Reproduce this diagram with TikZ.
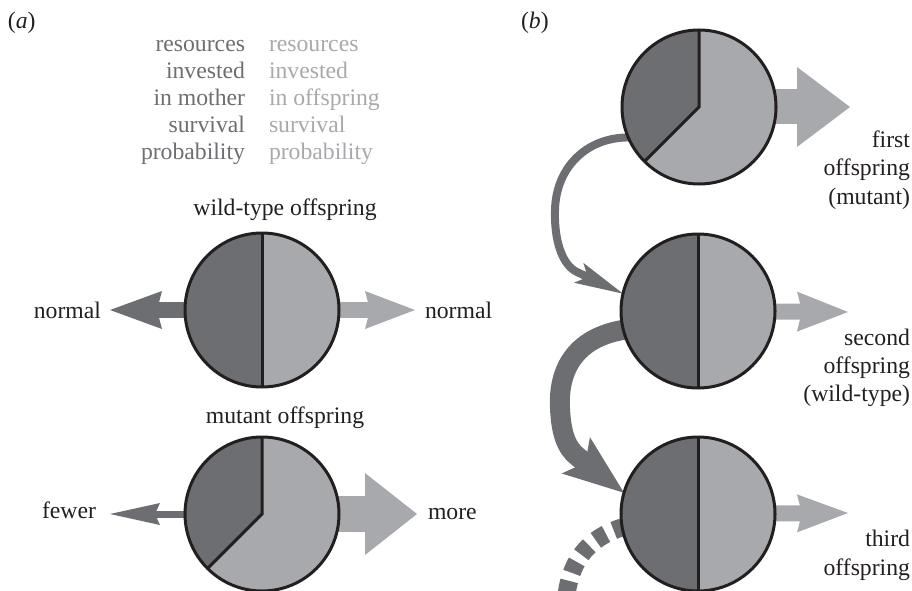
\documentclass[tikz,border=0pt]{standalone}
\usepackage{fontspec}
\setmainfont{Liberation Serif}
\usetikzlibrary{arrows.meta,backgrounds}
\definecolor{dk}{RGB}{109,110,113}
\definecolor{lt}{RGB}{167,169,172}
\definecolor{ink}{RGB}{35,31,32}
\begin{document}
\begin{tikzpicture}[x=1pt,y=1pt,
  txt/.style={font=\fontsize{23.7}{26.9}\selectfont, inner sep=0pt, outer sep=0pt, text=ink},
  pie/.style={circle, draw=ink, line width=3pt, minimum size=154pt, inner sep=0pt, outer sep=0pt},
  halfpie/.style={pie, path picture={
    \fill[lt] (path picture bounding box.south west) rectangle (path picture bounding box.north east);
    \fill[dk] (path picture bounding box.south west) rectangle (path picture bounding box.north);
    \draw[ink, line width=3pt] (path picture bounding box.north) -- (path picture bounding box.south);}},
  mutpie/.style={pie, path picture={
    \fill[lt] (path picture bounding box.south west) rectangle (path picture bounding box.north east);
    \fill[dk] (path picture bounding box.center) -- (path picture bounding box.north) -- (path picture bounding box.north west) -- (path picture bounding box.south west) -- cycle;
    \draw[ink, line width=3pt, line join=miter] (path picture bounding box.north) -- (path picture bounding box.center) -- ++(225:90pt);}},
  tipS/.style n args={3}{-{Stealth[length=#1,width=#2,inset=#3,line width=0pt]}},
  tipT/.style 2 args={-{Triangle[length=#1,width=#2,line width=0pt]}}
]
\useasboundingbox (0,0) rectangle (912,-591);

% circles
\node[halfpie] (w)  at (262,-310) {};
\node[mutpie]  (m)  at (262,-514) {};
\node[mutpie]  (c1) at (699,-107) {};
\node[halfpie] (c2) at (698,-311) {};
\node[halfpie] (c3) at (698,-514) {};

% panel labels
\node[txt, anchor=base west] (la) at (8,-29) {(\textit{a})};
\node[txt, anchor=base west] (lb) at (521,-29) {(\textit{b})};

% legend block
\foreach \a/\b [count=\i] in {resources/resources, invested/invested, in mother/in offspring, survival/survival, probability/probability}{
  \node[txt, text=dk, anchor=base east] (rm\i) at (245,{-51.7-26.9*(\i-1)}) {\a};
  \node[txt, text=lt, anchor=base west] (ro\i) at (269,{-51.7-26.9*(\i-1)}) {\b};
}

% titles and side labels
\node[txt, anchor=base] (tw) at (285,-215) {wild-type offspring};
\node[txt, anchor=base] (tm) at (285,-423) {mutant offspring};
\node[txt, anchor=base east] (nl) at (101,-318) {normal};
\node[txt, anchor=base west] (nr) at (425,-318) {normal};
\node[txt, anchor=base east] (fw) at (96,-518) {fewer};
\node[txt, anchor=base west] (mo) at (428,-519) {more};

\node[txt, anchor=base east] (f1) at (910,-147.7) {first};
\node[txt, anchor=base east] (f2) at (910,-175.9) {offspring};
\node[txt, anchor=base east] (f3) at (910,-204.1) {(mutant)};
\node[txt, anchor=base east] (s1) at (910,-345) {second};
\node[txt, anchor=base east] (s2) at (910,-373.3) {offspring};
\node[txt, anchor=base east] (s3) at (910,-401.6) {(wild-type)};
\node[txt, anchor=base east] (t1) at (910,-546.7) {third};
\node[txt, anchor=base east] (t2) at (910,-575) {offspring};

% arrow tips
\coordinate (wlt) at (110,-310);
\coordinate (wrt) at (415,-310);
\coordinate (mlt) at (110,-514);
\coordinate (mrt) at (417,-514);
\coordinate (a1) at (850,-107);
\coordinate (a2) at (848,-312);
\coordinate (a3) at (848,-513);

\begin{scope}[on background layer]
  \draw[dk, line width=16pt, tipS={52pt}{38pt}{5pt}] (w.center) -- (wlt);
  \draw[lt, line width=16pt, tipS={50pt}{38pt}{5pt}] (w.center) -- (wrt);
  \draw[dk, line width=7pt,  tipS={50pt}{22pt}{5pt}] (m.center) -- (mlt);
  \draw[lt, line width=36pt, tipT={52pt}{82pt}] (m.center) -- (mrt);
  \draw[lt, line width=35pt, tipT={53pt}{80pt}] (c1.center) -- (a1);
  \draw[lt, line width=16pt, tipS={51pt}{40pt}{5pt}] (c2.center) -- (a2);
  \draw[lt, line width=16pt, tipS={51pt}{38pt}{5pt}] (c3.center) -- (a3);
  % curved connectors
  \draw[dk, line width=8pt, shorten <=-8pt, tipS={49pt}{22pt}{10pt}]
    (c1.203) .. controls (590,-134) and (556,-165) .. (555,-210)
    .. controls (554,-240) and (562,-265) .. (577,-272) -- (c2.167);
  \draw[dk, line width=20pt, shorten <=-8pt, tipS={61pt}{46pt}{12pt}]
    (c2.194) .. controls (575,-335) and (558,-370) .. (560,-408)
    .. controls (561,-432) and (566,-448) .. (578,-457) -- (c3.164);
  \draw[dk, line width=18pt, dash pattern=on 12pt off 8.5pt, dash phase=3pt]
    (c3.190) .. controls (598,-535) and (570,-552) .. (566,-600);
\end{scope}
\end{tikzpicture}
\end{document}
